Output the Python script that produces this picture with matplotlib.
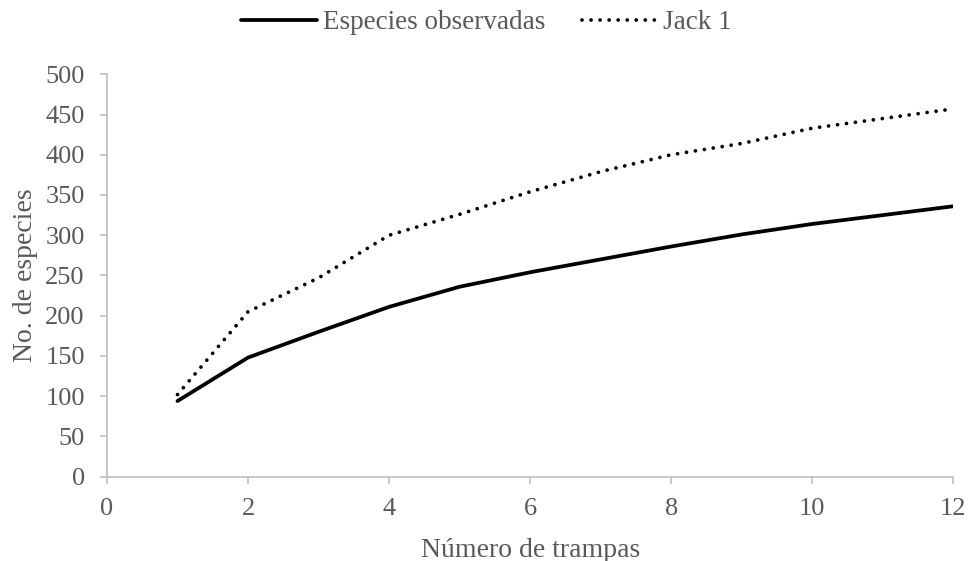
import matplotlib.pyplot as plt

# -----------------------------
# Data
# -----------------------------

trampas = [1, 2, 3, 4, 5, 6, 7, 8, 9, 10, 11, 12]
observadas = [94, 148, 180, 211, 236, 254, 270, 286, 301, 314, 325, 336]
jack1 = [102, 205, 247, 300, 326, 354, 379, 400, 414, 433, 445, 457]

x_ticks = [0, 2, 4, 6, 8, 10, 12]
y_ticks = list(range(0, 501, 50))

gray_text = "#595959"
gray_axis = "#BFBFBF"

plt.rcParams['font.family'] = ['Liberation Serif', 'DejaVu Serif']

fig = plt.figure(figsize=(9.69, 5.61), dpi=100)
ax = fig.add_axes([0.1104, 0.1503, 0.8734, 0.7173])

ax.plot(trampas, observadas, color="black", linewidth=2.7,
        solid_capstyle="round", label="Especies observadas")
ax.plot(trampas, jack1, color="black", linewidth=2.7,
        linestyle=(0, (0.01, 2.4)), dash_capstyle="round", label="Jack 1")

ax.set_xlim(0, 12)
ax.set_ylim(0, 500)
ax.set_xticks(x_ticks)
ax.set_yticks(y_ticks)

for side in ["top", "right"]:
    ax.spines[side].set_visible(False)
for side in ["left", "bottom"]:
    ax.spines[side].set_color(gray_axis)
    ax.spines[side].set_linewidth(1.2)

ax.tick_params(axis="both", colors=gray_axis, labelcolor=gray_text,
               labelsize=19, length=5, width=1.2, direction="out")
ax.tick_params(axis="x", pad=10)
ax.tick_params(axis="y", pad=11)

ax.set_xlabel("Número de trampas", fontsize=20, color=gray_text, labelpad=13)
ax.set_ylabel("No. de especies", fontsize=20, color=gray_text, labelpad=5)

leg = fig.legend(loc="upper center", bbox_to_anchor=(0.502, 1.025), ncol=2,
                 frameon=False, fontsize=19.5, handlelength=2.78,
                 columnspacing=1.35, handletextpad=0.22)
for t in leg.get_texts():
    t.set_color(gray_text)

fig.savefig("out.png", dpi=100)
